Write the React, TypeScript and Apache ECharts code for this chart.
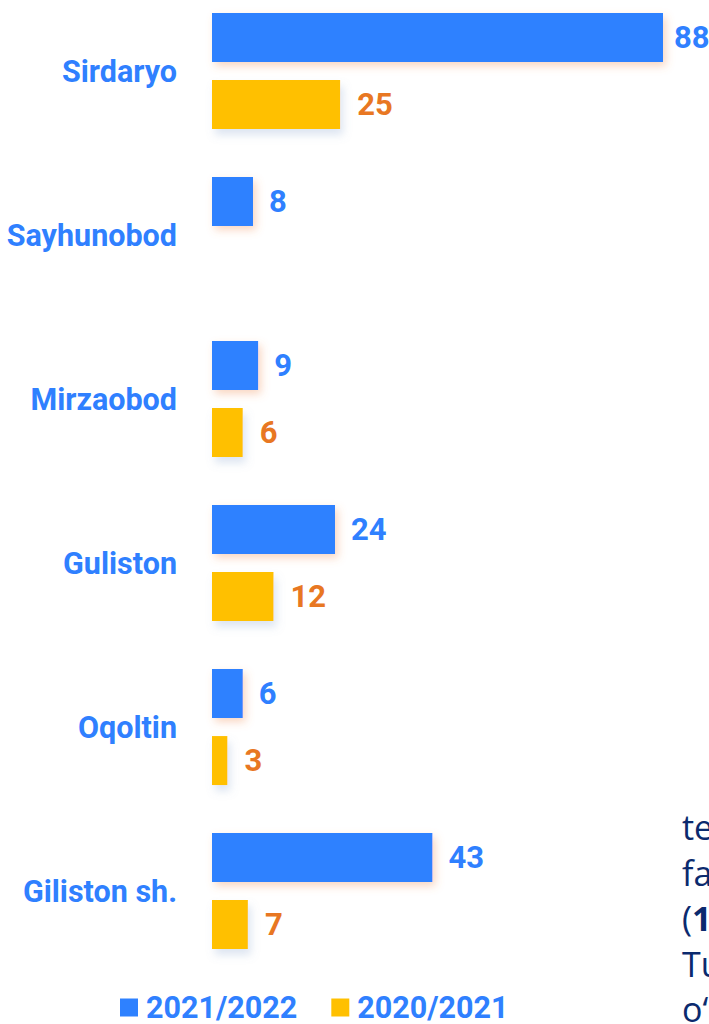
import React, { useEffect, useRef } from "react";
import * as echarts from "echarts";

const categories = ["Sirdaryo", "Sayhunobod", "Mirzaobod", "Guliston", "Oqoltin", "Giliston sh."];
const series2122 = [88, 8, 9, 24, 6, 43];
const series2021: (number | null)[] = [25, null, 6, 12, 3, 7];
const legendNames = ["2021/2022", "2020/2021"];
const sideLines = ["te", "fa", "{n|(}{b|1}", "Tu", "o‘"];

export default function App() {
  const ref = useRef<HTMLDivElement>(null);
  useEffect(() => {
    if (!ref.current) return;
    const chart = echarts.init(ref.current, undefined, { renderer: "svg" });
    const font = "Roboto";
    const off = 11;
    chart.setOption({
      animation: false,
      backgroundColor: "#ffffff",
      grid: { left: 212, top: 0, width: 451, height: 984, containLabel: false },
      xAxis: {
        type: "value",
        min: 0,
        max: 88,
        show: false,
      },
      yAxis: {
        type: "category",
        data: categories,
        inverse: true,
        axisLine: { show: false },
        axisTick: { show: false },
        axisLabel: {
          margin: 35,
          color: "#2F80FF",
          fontFamily: font,
          fontWeight: "bold",
          fontSize: 30.5,
        },
      },
      legend: {
        bottom: -4,
        left: 115,
        itemWidth: 18,
        itemHeight: 18,
        itemGap: 34,
        icon: "rect",
        textStyle: {
          color: "#2F80FF",
          fontFamily: font,
          fontWeight: "bold",
          fontSize: 30.5,
          padding: [0, 0, 0, 3],
        },
        data: legendNames,
      },
      series: [
        {
          name: legendNames[0],
          type: "bar",
          data: series2122.map((v) => (v === 88 ? { value: v, label: { distance: 11 } } : v)),
          barWidth: 49,
          barGap: "37%",
          itemStyle: {
            color: "#2E81FF",
            shadowColor: "rgba(240,140,80,0.35)",
            shadowBlur: 8,
            shadowOffsetX: 3,
            shadowOffsetY: 4,
          },
          label: {
            show: true,
            position: "right",
            distance: 16,
            color: "#2F80FF",
            fontFamily: font,
            fontWeight: "bold",
            fontSize: 31,
          },
        },
        {
          name: legendNames[1],
          type: "bar",
          data: series2021,
          barWidth: 49,
          barGap: "37%",
          itemStyle: {
            color: "#FFC000",
            shadowColor: "rgba(120,150,200,0.25)",
            shadowBlur: 8,
            shadowOffsetX: 3,
            shadowOffsetY: 6,
          },
          label: {
            show: true,
            position: "right",
            distance: 17,
            color: "#E87722",
            fontFamily: font,
            fontWeight: "bold",
            fontSize: 31,
          },
        },
      ],
      graphic: sideLines.map((t, i) => ({
        type: "text",
        x: 682,
        y: 827 + off + i * 45.6,
        style: {
          text: t,
          fill: "#0B2A6E",
          font: "normal 34px 'Open Sans'",
          verticalAlign: "middle",
          rich: {
            n: { fill: "#0B2A6E", font: "normal 34px 'Open Sans'" },
            b: { fill: "#0B2A6E", font: "bold 34px 'Open Sans'" },
          },
        },
      })),
    });
    return () => chart.dispose();
  }, []);
  return <div ref={ref} style={{ position: "absolute", left: 0, top: -11, width: 709, height: 1035 }} />;
}
